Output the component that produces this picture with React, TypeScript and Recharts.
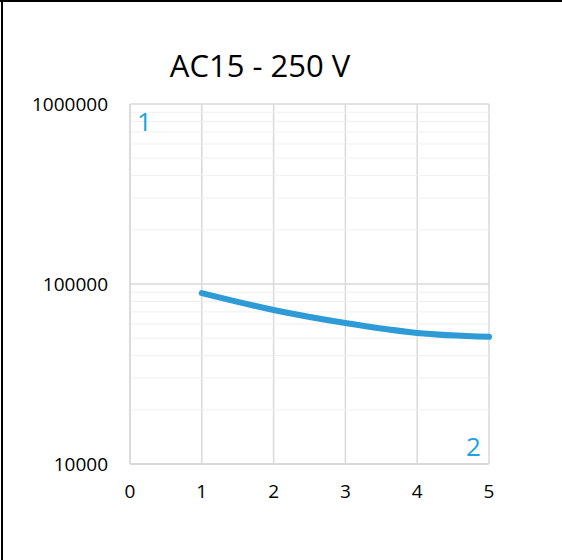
import React from "react";
import { LineChart, Line, XAxis, YAxis, CartesianGrid, ReferenceLine } from "recharts";

const xValues = [1, 2, 3, 4, 5];
const cycles = [89000, 71700, 60700, 53500, 50900];
const xTicks = [0, 1, 2, 3, 4, 5];
const yTicks = [10000, 100000, 1000000];
const minorY = [
  20000, 30000, 40000, 50000, 60000, 70000, 80000, 90000,
  200000, 300000, 400000, 500000, 600000, 700000, 800000, 900000,
];
const title = "AC15 - 250 V";
const cornerLabels = ["1", "2"];

const data = xValues.map((x, i) => ({ x, y: cycles[i] }));

const FONT = "'Open Sans', 'Liberation Sans', sans-serif";
const GRID = "#d9d9d9";
const MINOR = "#efefef";
const BLUE = "#2e9ad6";
const CYAN = "#1aa3e0";

export default function App() {
  return (
    <div style={{ position: "absolute", left: 0, top: 0, width: 562, height: 560, background: "#fff", fontFamily: FONT }}>
      <div style={{ position: "absolute", left: 0, top: 0, width: 562, height: 2, background: "#000" }} />
      <div style={{ position: "absolute", left: 1, top: 0, width: 2, height: 560, background: "#000" }} />
      <div style={{ position: "absolute", left: 0, top: 45, width: 520, textAlign: "center", fontSize: 31, color: "#000", lineHeight: "40px" }}>
        {title}
      </div>
      <LineChart width={562} height={560} data={data} margin={{ top: 104, right: 73, bottom: 66, left: 30 }}>
        {minorY.map((v) => (
          <ReferenceLine key={v} y={v} stroke={MINOR} strokeWidth={1} ifOverflow="hidden" />
        ))}
        <CartesianGrid stroke={GRID} strokeWidth={1.5} />
        <XAxis
          dataKey="x"
          type="number"
          domain={[0, 5]}
          ticks={xTicks}
          tickLine={false}
          tickSize={0}
          tickMargin={21}
          axisLine={{ stroke: GRID, strokeWidth: 2 }}
          tick={{ fill: "#000", fontSize: 19, fontFamily: FONT }}
        />
        <YAxis
          scale="log"
          domain={[10000, 1000000]}
          ticks={yTicks}
          type="number"
          width={100}
          tickLine={false}
          tickSize={0}
          tickMargin={22}
          axisLine={{ stroke: GRID, strokeWidth: 1.5 }}
          tick={{ fill: "#000", fontSize: 19, fontFamily: FONT }}
          allowDataOverflow
        />
        <Line
          dataKey="y"
          type="monotone"
          stroke={BLUE}
          strokeWidth={6}
          strokeLinecap="round"
          dot={false}
          activeDot={false}
          isAnimationActive={false}
        />
      </LineChart>
      <div style={{ position: "absolute", left: 137, top: 106, fontSize: 26, color: CYAN, lineHeight: "30px" }}>
        {cornerLabels[0]}
      </div>
      <div style={{ position: "absolute", left: 466, top: 431, fontSize: 26, color: CYAN, lineHeight: "30px" }}>
        {cornerLabels[1]}
      </div>
    </div>
  );
}
